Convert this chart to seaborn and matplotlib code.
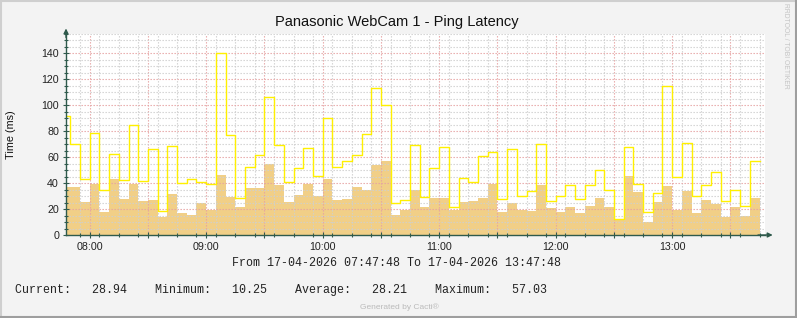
import numpy as np
import pandas as pd
import matplotlib
matplotlib.use("Agg")
import matplotlib.pyplot as plt
from matplotlib.ticker import FixedLocator, FixedFormatter
import seaborn as sns

# ---------------- data ----------------
start_time = "2026-04-17 07:45"
step_min = 5
avg_ms = [36.9, 36.9, 25.4, 39.2, 17.7, 42.8, 27.7, 39.2, 25.9, 26.9,
          14.1, 31.5, 16.9, 15.4, 24.6, 19.5, 46.2, 29.5, 21.5, 36.2,
          36.2, 54.6, 38.5, 25.4, 30.8, 39.2, 30.0, 42.8, 26.9, 27.7,
          36.9, 34.6, 53.8, 56.7, 15.4, 19.2, 34.6, 21.5, 28.5, 28.5,
          19.2, 25.4, 26.2, 28.5, 39.5, 17.7, 24.6, 19.5, 18.7, 38.5,
          20.5, 17.7, 21.5, 16.9, 22.3, 28.5, 21.5, 11.3, 45.4, 33.1,
          10.0, 25.4, 37.7, 19.2, 33.8, 16.9, 26.9, 23.8, 14.1, 21.5,
          14.6, 28.5]
max_ms = [91.8, 70.3, 42.8, 78.2, 34.4, 62.1, 42.1, 84.4, 41.3, 65.9,
          18.2, 68.2, 39.7, 42.8, 40.5, 39.0, 139.7, 76.7, 28.5, 52.1,
          61.3, 105.9, 69.0, 40.5, 51.3, 66.7, 45.1, 89.7, 52.1, 56.7,
          61.3, 77.4, 112.8, 99.7, 24.4, 26.7, 69.0, 29.0, 51.3, 67.4,
          21.5, 43.6, 40.5, 60.5, 63.6, 27.4, 65.9, 30.0, 33.6, 69.7,
          25.9, 29.7, 38.2, 27.4, 38.2, 49.7, 34.4, 12.1, 67.4, 39.0,
          17.7, 32.1, 114.4, 44.6, 70.5, 29.7, 38.2, 48.2, 25.9, 34.4,
          22.3, 56.7]
hour_labels = ["08:00", "09:00", "10:00", "11:00", "12:00", "13:00"]
title = "Panasonic WebCam 1 - Ping Latency"
y_label = "Time (ms)"
range_text = "From 17-04-2026 07:47:48 To 17-04-2026 13:47:48"
legend_text = "Current:   28.94    Minimum:   10.25    Average:   28.21    Maximum:   57.03"

# ---------------- derived frame ----------------
t0 = pd.Timestamp(start_time)
times = pd.date_range(t0, periods=len(avg_ms), freq=f"{step_min}min")
minutes = ((times - t0) / pd.Timedelta(minutes=1)).to_numpy()
df = pd.DataFrame({"t": minutes, "avg": avg_ms, "max": max_ms})
end_min = float(minutes[-1] + step_min)
line_df = pd.concat([df[["t", "max"]],
                     pd.DataFrame({"t": [end_min], "max": [max_ms[-1]]})],
                    ignore_index=True)

view_start = (pd.Timestamp("2026-04-17 07:47:48") - t0) / pd.Timedelta(minutes=1)
view_end = (pd.Timestamp("2026-04-17 13:47:48") - t0) / pd.Timedelta(minutes=1)
hour_pos = [((pd.Timestamp("2026-04-17 " + h) - t0) / pd.Timedelta(minutes=1)) for h in hour_labels]

# ---------------- figure ----------------
W, H = 797, 318
fig = plt.figure(figsize=(W / 100, H / 100), dpi=100, facecolor="#F3F3F3")
ax = fig.add_axes([66 / W, 1 - 235 / H, (765 - 66) / W, (235 - 33.5) / H])
ax.set_facecolor("#FFFFFF")

area_col = "#F1CF87"
line_col = "#FFF000"
axis_col = "#2F5A4C"

sns.histplot(data=df, x="t", weights="avg", binwidth=step_min,
             binrange=(0.0, end_min),
             element="step", fill=True, color=area_col, alpha=1.0,
             linewidth=0, ax=ax, zorder=1)
sns.lineplot(data=line_df, x="t", y="max", drawstyle="steps-post",
             color=line_col, linewidth=1.0, estimator=None, ax=ax, zorder=4)

ax.set_xlim(view_start, view_end)
ax.set_ylim(0, 155)

# grid
x_major = [h + m for h in [hour_pos[0] - 60] + hour_pos for m in (0, 30)]
x_major = [v for v in x_major if view_start <= v <= view_end]
x_minor = [v for v in np.arange(-60, 420, 10) if view_start <= v <= view_end and v not in x_major]
ax.xaxis.set_major_locator(FixedLocator(x_major))
ax.xaxis.set_major_formatter(FixedFormatter(
    [hour_labels[hour_pos.index(v)] if v in hour_pos else "" for v in x_major]))
ax.xaxis.set_minor_locator(FixedLocator(x_minor))
ax.yaxis.set_major_locator(FixedLocator(list(range(0, 141, 20))))
ax.yaxis.set_minor_locator(FixedLocator([v for v in range(0, 156, 5) if v % 20]))

ax.set_axisbelow(False)
ax.grid(which="major", color="#E6A3A3", linestyle=(0, (1.2, 1.5)), linewidth=0.8, zorder=3)
ax.grid(which="minor", color="#CFCFCF", linestyle=(0, (1.2, 1.5)), linewidth=0.8, zorder=2)

ax.tick_params(axis="both", which="both", direction="inout", color=axis_col,
               labelsize=7.7, labelcolor="#222222", width=0.8)
ax.tick_params(axis="both", which="major", length=4, pad=3)
ax.tick_params(axis="both", which="minor", length=3)
for lab in ax.get_xticklabels() + ax.get_yticklabels():
    lab.set_fontfamily("Liberation Sans")

for s in ["top", "right"]:
    ax.spines[s].set_visible(False)
for s in ["left", "bottom"]:
    ax.spines[s].set_color(axis_col)
    ax.spines[s].set_linewidth(1.0)
    ax.spines[s].set_zorder(6)

ax.set_xlabel("")
ax.set_ylabel("")

# arrows
ax.annotate("", xy=(1.011, 0), xytext=(0.99, 0), xycoords="axes fraction",
            arrowprops=dict(arrowstyle="-|>", color=axis_col, lw=1.0, mutation_scale=7,
                            shrinkA=0, shrinkB=0), annotation_clip=False, zorder=7)
ax.annotate("", xy=(0, 1.025), xytext=(0, 0.98), xycoords="axes fraction",
            arrowprops=dict(arrowstyle="-|>", color=axis_col, lw=1.0, mutation_scale=7,
                            shrinkA=0, shrinkB=0), annotation_clip=False, zorder=7)

# texts
fig.text(397 / W, 1 - 22 / H, title, ha="center", va="center",
         fontsize=10.5, family="Liberation Sans", color="#111111")
fig.text(11 / W, 1 - 135 / H, y_label, ha="center", va="center", rotation=90,
         fontsize=7.8, family="Liberation Sans", color="#111111")
fig.text(397 / W, 1 - 263 / H, range_text, ha="center", va="center",
         fontsize=8.4, family="Liberation Mono", color="#222222")
fig.text(15 / W, 1 - 290 / H, legend_text, ha="left", va="center",
         fontsize=8.4, family="Liberation Mono", color="#222222")
fig.text(399 / W, 1 - 307 / H, "Generated by Cacti®", ha="center", va="center",
         fontsize=6.0, family="Liberation Sans", color="#BBBBBB")
fig.text(785.5 / W, 1 - 46 / H, "RRDTOOL / TOBI OETIKER", ha="center", va="center",
         rotation=270, fontsize=4.9, family="Liberation Sans", color="#C4C4C4")

# frame
fig.add_artist(plt.Line2D([0, 1], [1 - 0.5 / H, 1 - 0.5 / H], transform=fig.transFigure,
                          color="#CFCFCF", lw=1.5))
fig.add_artist(plt.Line2D([0.5 / W, 0.5 / W], [0, 1], transform=fig.transFigure,
                          color="#CFCFCF", lw=1.5))
fig.add_artist(plt.Line2D([0, 1], [1.5 / H, 1.5 / H], transform=fig.transFigure,
                          color="#9E9E9E", lw=1.5))
fig.add_artist(plt.Line2D([1 - 1.5 / W, 1 - 1.5 / W], [0, 1], transform=fig.transFigure,
                          color="#9E9E9E", lw=1.5))

fig.savefig("out.png", dpi=100, facecolor=fig.get_facecolor())
